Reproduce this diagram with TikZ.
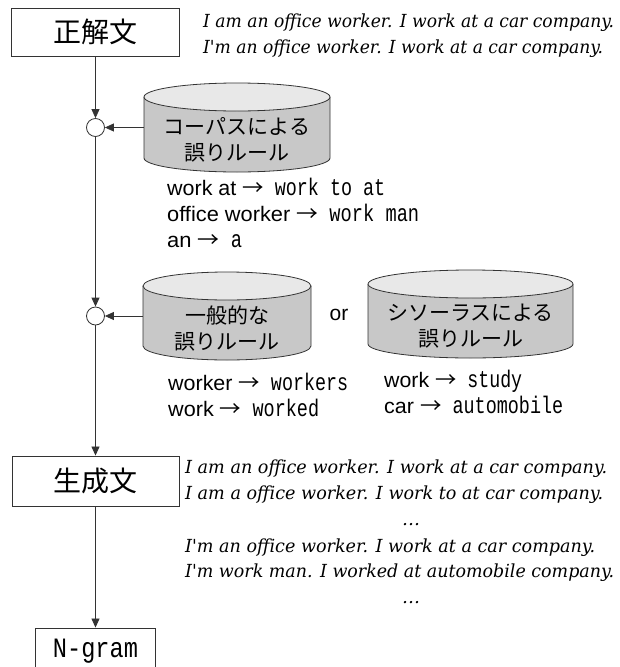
\documentclass[tikz,border=0pt]{standalone}
\usepackage{fontspec}
\usepackage{graphicx}
\usetikzlibrary{arrows.meta}
\setmainfont{Liberation Sans}
\newfontfamily\jpf{Noto Sans CJK JP}
\newfontfamily\mff[FakeStretch=0.75]{Liberation Mono}
\newfontfamily\sff{Liberation Sans}
\newfontfamily\itf{DejaVu Serif}
\definecolor{ln}{HTML}{333333}
\definecolor{cylbody}{HTML}{C8C8C8}
\definecolor{cyltop}{HTML}{E8E8E8}
\newcommand\fitw[2]{\resizebox{#1pt}{\height}{#2}}
\newcommand\rul[2]{{\sff\fontsize{21}{21}\selectfont #1 }{\jpf\fontsize{21}{21}\selectfont →}{\mff\fontsize{24}{24}\selectfont\ #2}}
\newcommand\ital{\itf\itshape\fontsize{18}{18}\selectfont}
\newcommand\mycyl[6]{%
  \fill[cylbody] (#2-#5,#3) -- (#2-#5,#4) arc[start angle=180,end angle=360,x radius=#5pt,y radius=#6pt] -- (#2+#5,#3) -- cycle;
  \draw[cylline] (#2-#5,#3) -- (#2-#5,#4) arc[start angle=180,end angle=360,x radius=#5pt,y radius=#6pt] -- (#2+#5,#3);
  \filldraw[cylline, fill=cyltop] (#2,#3) ellipse [x radius=#5pt, y radius=#6pt];
  \node[inner sep=0pt, minimum width={2*#5pt}, minimum height={(#4-#3)*1pt}] (#1) at (#2,{(#3+#4)/2}) {};
}
\tikzset{
  box/.style={draw=ln, line width=0.9pt, fill=white, inner sep=0pt},
  cylline/.style={draw=ln, line width=0.8pt},
  junction/.style={circle, draw=ln, line width=0.8pt, fill=white, minimum size=18pt, inner sep=0pt},
  arr/.style={draw=ln, line width=0.8pt, -{Triangle[length=9pt,width=8pt]}},
  txt/.style={anchor=base west, inner sep=0pt},
  cyltext/.style={align=center, inner sep=0pt, font=\jpf\fontsize{21}{26}\selectfont},
  jpbox/.style={font=\jpf\fontsize{28}{28}\selectfont}
}
\begin{document}
\begin{tikzpicture}[x=1pt,y=-1pt]
\useasboundingbox (0,0) rectangle (619,667);
\clip (0,0) rectangle (619,667);

% main boxes
\node[box, jpbox, minimum width=168pt, minimum height=48pt] (src) at (95.5,32) {正解文};
\node[box, jpbox, minimum width=167pt, minimum height=50pt] (gen) at (95.5,481) {生成文};
\node[box, minimum width=120pt, minimum height=46pt] (ng) at (95.5,651) {\fitw{85}{\mff\fontsize{28}{28}\selectfont N-gram}};

% junctions
\node[junction] (c1) at (95.5,127.5) {};
\node[junction] (c2) at (95.5,316) {};

% cylinders
\mycyl{cyl1}{237}{97}{158}{93}{14}
\mycyl{cyl2}{227}{286}{346}{84}{14}
\mycyl{cyl3}{470.5}{284}{344}{102.5}{14}
\node[cyltext] (cyl1t) at (237,140) {コーパスによる\\誤りルール};
\node[cyltext] (cyl2t) at (227,328.5) {一般的な\\誤りルール};
\node[cyltext] (cyl3t) at (470.5,326.5) {シソーラスによる\\誤りルール};
\node[inner sep=0pt, font=\sff\fontsize{21}{21}\selectfont] (or) at (339,315) {or};

% connectors
\draw[arr] (src) -- (c1);
\draw[arr] (cyl1.west) -- (c1.east);
\draw[arr] (c1) -- (c2);
\draw[arr] (cyl2.west) -- (c2.east);
\draw[arr] (c2) -- (gen);
\draw[arr] (gen) -- (ng);

% sentences top
\node[txt] (s1) at (203,27) {\fitw{411}{\ital I am an office worker. I work at a car company.}};
\node[txt] (s2) at (203,53) {\fitw{400}{\ital I'm an office worker. I work at a car company.}};

% rules
\node[txt] (r1) at (167,195) {\fitw{218}{\rul{work at}{work to at}}};
\node[txt] (r2) at (167,221) {\fitw{252}{\rul{office worker}{work man}}};
\node[txt] (r3) at (167,247) {\fitw{75}{\rul{an}{a}}};
\node[txt] (r4) at (168,390) {\fitw{180}{\rul{worker}{workers}}};
\node[txt] (r5) at (168,416) {\fitw{151}{\rul{work}{worked}}};
\node[txt] (r6) at (384,387) {\fitw{138}{\rul{work}{study}}};
\node[txt] (r7) at (384,413) {\fitw{179}{\rul{car}{automobile}}};

% generated sentences
\node[txt] (g1) at (185,473) {\fitw{422}{\ital I am an office worker. I work at a car company.}};
\node[txt] (g2) at (185,499) {\fitw{418}{\ital I am a office worker. I work to at car company.}};
\node[anchor=base, inner sep=0pt] (g3) at (411,525) {\ital …};
\node[txt] (g4) at (185,552) {\fitw{410}{\ital I'm an office worker. I work at a car company.}};
\node[txt] (g5) at (185,577) {\fitw{429}{\ital I'm work man. I worked at automobile company.}};
\node[anchor=base, inner sep=0pt] (g6) at (411,603) {\ital …};
\end{tikzpicture}
\end{document}
